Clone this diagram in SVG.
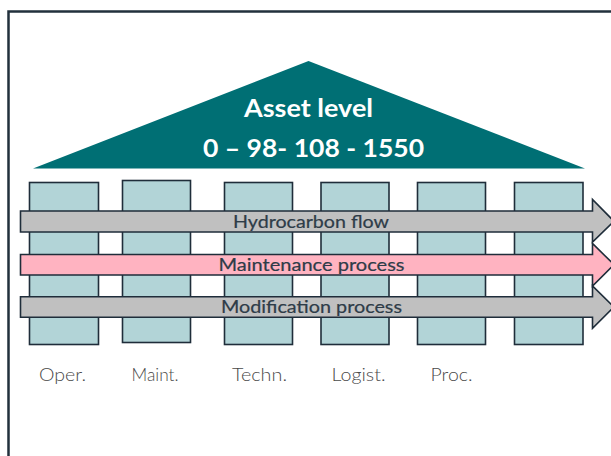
<svg xmlns="http://www.w3.org/2000/svg" width="611" height="456" viewBox="0 0 611 456">
  <style>
    .pillar { fill: #b2d4d7; stroke: #1f2d3a; stroke-width: 1.6; }
    .flow { stroke: #1f2d3a; stroke-width: 1.6; stroke-linejoin: miter; }
    .grey { fill: #c0c0c0; }
    .pink { fill: #ffb3c1; }
    .flow-label { font-family: "Lato", "Liberation Sans", sans-serif; font-size: 17px; fill: #2e3c48; stroke: #2e3c48; stroke-width: 0.2; text-anchor: start; }
    .dept { font-family: "Lato", "Liberation Sans", sans-serif; font-weight: 300; font-size: 18px; fill: #4a4a4a; text-anchor: start; }
    .roof-text { font-family: "Lato", "Liberation Sans", sans-serif; font-weight: bold; font-size: 25px; fill: #ffffff; text-anchor: start; }
  </style>

  <rect width="611" height="456" fill="#ffffff"/>
  <!-- outer frame -->
  <rect x="8.5" y="11.5" width="640" height="480" fill="none" stroke="#22303c" stroke-width="2.5"/>

  <!-- roof -->
  <g id="asset-level">
    <polygon points="33,168.5 308.5,61 585,168.5" fill="#006f74"/>
    <text class="roof-text" x="244" y="117" textLength="129" lengthAdjust="spacingAndGlyphs">Asset level</text>
    <text class="roof-text" x="203" y="157" textLength="221" lengthAdjust="spacingAndGlyphs">0 – 98- 108 - 1550</text>
  </g>

  <!-- pillars -->
  <g id="pillar-oper"><rect class="pillar" x="29.5" y="182.5" width="69" height="162"/></g>
  <g id="pillar-maint"><rect class="pillar" x="122.5" y="180.5" width="68" height="162"/></g>
  <g id="pillar-techn"><rect class="pillar" x="224.5" y="182.5" width="68" height="162"/></g>
  <g id="pillar-logist"><rect class="pillar" x="321" y="182.5" width="68" height="162"/></g>
  <g id="pillar-proc"><rect class="pillar" x="417.5" y="182.5" width="68" height="162"/></g>
  <g id="pillar-6"><rect class="pillar" x="514.5" y="182.5" width="68.5" height="162"/></g>

  <!-- process flows across the pillars -->
  <g id="connectors">
    <g id="flow-hydrocarbon">
      <polygon class="flow grey" points="20.5,211 592.5,211 592.5,199.5 614,221.3 592.5,242 592.5,232 20.5,232"/>
      <text class="flow-label" x="233" y="227.5" textLength="156" lengthAdjust="spacingAndGlyphs">Hydrocarbon flow</text>
    </g>
    <g id="flow-maintenance">
      <polygon class="flow pink" points="20.5,254.5 592.5,254.5 592.5,243.5 614,264.7 592.5,286 592.5,275 20.5,275"/>
      <text class="flow-label" x="218.5" y="270.7" textLength="186" lengthAdjust="spacingAndGlyphs">Maintenance process</text>
    </g>
    <g id="flow-modification">
      <polygon class="flow grey" points="20.5,296.8 592.5,296.8 592.5,286 614,307 592.5,328.3 592.5,317.3 20.5,317.3"/>
      <text class="flow-label" x="221" y="313.3" textLength="181" lengthAdjust="spacingAndGlyphs">Modification process</text>
    </g>
  </g>

  <!-- department labels -->
  <g id="labels">
    <text class="dept" x="39" y="380.5" textLength="47" lengthAdjust="spacingAndGlyphs">Oper.</text>
    <text class="dept" x="131.5" y="380.5" textLength="47" lengthAdjust="spacingAndGlyphs">Maint.</text>
    <text class="dept" x="232" y="380.5" textLength="55" lengthAdjust="spacingAndGlyphs">Techn.</text>
    <text class="dept" x="331.5" y="380.5" textLength="54" lengthAdjust="spacingAndGlyphs">Logist.</text>
    <text class="dept" x="430.5" y="380.5" textLength="42" lengthAdjust="spacingAndGlyphs">Proc.</text>
  </g>
</svg>
